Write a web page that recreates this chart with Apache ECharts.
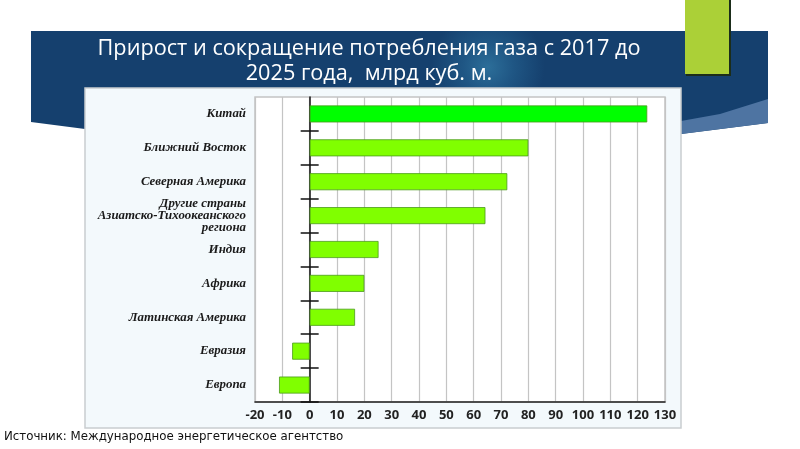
<!DOCTYPE html>
<html><head><meta charset="utf-8">
<script src="https://cdn.jsdelivr.net/npm/echarts@6/dist/echarts.min.js"></script>
<style>html,body{margin:0;padding:0;background:#fff}#c{width:800px;height:449px}</style>
</head><body><div id="c"></div>
<script>
const categories = ['Китай','Ближний Восток','Северная Америка','Другие страны\nАзиатско-Тихоокеанского\nрегиона','Индия','Африка','Латинская Америка','Евразия','Европа'];
const values = [123.5, 80, 72.3, 64.3, 25.2, 20, 16.6, -6.4, -11.2];
const xTicks = {min: -20, max: 130, interval: 10};
const titleText = 'Прирост и сокращение потребления газа с 2017 до\n2025 года,  млрд куб. м.';
const sourceText = 'Источник: Международное энергетическое агентство';

const chart = echarts.init(document.getElementById('c'), null, {renderer: 'canvas'});
const barData = values.map((v, i) => ({
  value: v,
  itemStyle: {color: i === 0 ? '#00ff00' : '#80ff00'}
}));
const catAxisBase = {type: 'category', data: categories, inverse: true, gridIndex: 0};
const gridLeft = 255;
chart.setOption({
  animation: false,
  backgroundColor: '#ffffff',
  title: {
    text: titleText, left: 364, top: 31, textAlign: 'center',
    textStyle: {color: '#ffffff', fontFamily: 'Open Sans', fontWeight: 'normal', fontSize: 21.7, lineHeight: 25}
  },
  graphic: [
    {type: 'polygon', z: -20, shape: {points: [[31, 31], [768, 31], [768, 123], [681, 134], [85, 129], [31, 122]]},
      style: {fill: new echarts.graphic.RadialGradient(0.62, 0.35, 0.55, [
        {offset: 0, color: '#2c6e99'}, {offset: 0.45, color: '#1f5684'}, {offset: 1, color: '#15406e'}])}},
    {type: 'polygon', z: -19, shape: {points: [[681, 121], [720, 114], [768, 99], [768, 123], [681, 134]]},
      style: {fill: '#4e74a2'}},
    {type: 'rect', z: -17, shape: {x: 686, y: 0, width: 45, height: 76}, style: {fill: '#1b2d1a'}},
    {type: 'rect', z: -16, shape: {x: 685, y: 0, width: 44, height: 74}, style: {fill: '#abd037'}},
    {type: 'rect', z: -15, shape: {x: 85, y: 88, width: 596, height: 340},
      style: {fill: '#f3f9fc', stroke: '#c9cdd0', lineWidth: 1.5}},
    {type: 'text', z: 5, left: 4, top: 431,
      style: {text: sourceText, fill: '#111', font: '11.8px "DejaVu Sans", sans-serif'}}
  ],
  grid: {left: gridLeft, right: 135, top: 97, bottom: 47, show: true, backgroundColor: '#ffffff', borderColor: '#c4c4c4', borderWidth: 1.5},
  xAxis: {
    type: 'value', min: xTicks.min, max: xTicks.max, interval: xTicks.interval, position: 'bottom',
    axisLine: {show: true, onZero: false, lineStyle: {color: '#222', width: 1.5}},
    axisTick: {show: false},
    splitLine: {show: true, lineStyle: {color: '#c4c4c4', width: 1.2}},
    axisLabel: {color: '#222', fontFamily: 'Open Sans', fontWeight: 'bold', fontSize: 13, margin: 7}
  },
  yAxis: [
    Object.assign({}, catAxisBase, {
      position: 'left',
      axisLine: {show: false, onZero: false},
      axisTick: {show: false},
      axisLabel: {color: '#1a1a1a', fontFamily: 'Liberation Serif', fontStyle: 'italic', fontWeight: 'bold', fontSize: 12.9, lineHeight: 12, margin: 9}
    }),
    Object.assign({}, catAxisBase, {
      position: 'left',
      axisLine: {show: true, onZero: true, lineStyle: {color: '#111', width: 1.5}},
      axisTick: {show: true, length: 9, inside: false, lineStyle: {color: '#111', width: 1.5}, interval: (i) => i > 0},
      axisLabel: {show: false}, splitLine: {show: false}
    }),
    Object.assign({}, catAxisBase, {
      position: 'left', offset: 0,
      axisLine: {show: false, onZero: false},
      axisTick: {show: true, length: 9, inside: true, lineStyle: {color: '#111', width: 1.5}, interval: (i) => i > 0},
      axisLabel: {show: false}, splitLine: {show: false}
    })
  ],
  series: [{
    type: 'bar', yAxisIndex: 0, data: barData, barWidth: 17,
    itemStyle: {borderColor: '#4a9a1a', borderWidth: 0.8}
  }]
});
// place the inner tick axis on the zero line, using the value axis scale
const zeroX = chart.convertToPixel({xAxisIndex: 0}, 0);
chart.setOption({yAxis: [{}, {}, {offset: gridLeft - zeroX}]});
</script></body></html>
